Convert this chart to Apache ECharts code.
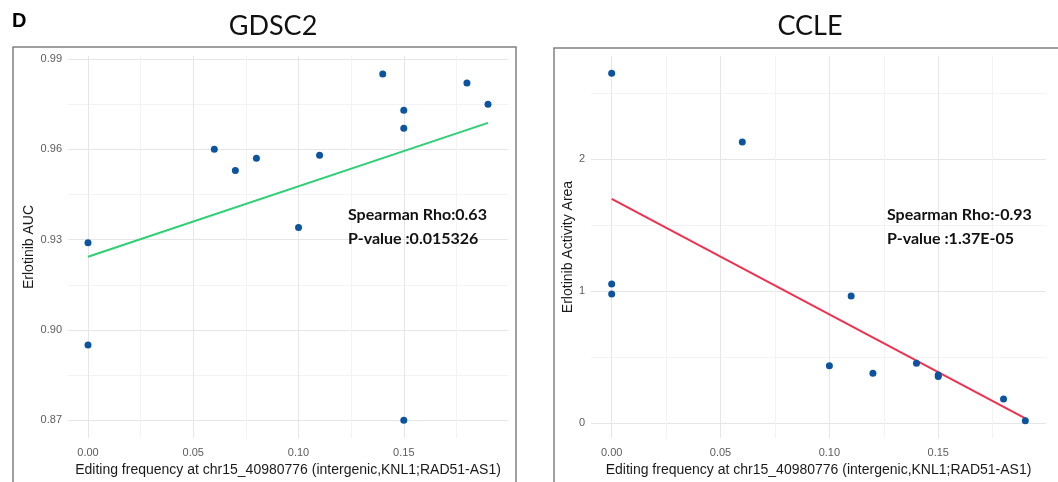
<!DOCTYPE html>
<html>
<head>
<meta charset="utf-8">
<script src="https://cdn.jsdelivr.net/npm/echarts@6/dist/echarts.min.js"></script>
<style>
  html, body { margin: 0; padding: 0; background: #fff; }
  #chart { width: 1058px; height: 482px; }
</style>
</head>
<body>
<div id="chart"></div>
<script>
// GDSC2 点 (editing frequency, Erlotinib AUC)
var gdscX = [0.14, 0.18, 0.19, 0.15, 0.15, 0.06, 0.07, 0.08, 0.11, 0.10, 0.00, 0.00, 0.15];
var gdscY = [0.985, 0.982, 0.975, 0.973, 0.967, 0.960, 0.953, 0.957, 0.958, 0.934, 0.929, 0.895, 0.870];
var gdscFitX = [0, 0.19];
var gdscFitY = [0.9243, 0.9688];

// CCLE 点 (editing frequency, Erlotinib Activity Area)
var ccleX = [0.00, 0.06, 0.00, 0.00, 0.11, 0.10, 0.12, 0.14, 0.15, 0.15, 0.18, 0.19];
var ccleY = [2.647, 2.128, 1.054, 0.978, 0.963, 0.436, 0.378, 0.454, 0.366, 0.354, 0.184, 0.020];
var ccleFitX = [0, 0.19];
var ccleFitY = [1.697, 0.038];

var titles = ['GDSC2', 'CCLE'];
var yNames = ['Erlotinib AUC', 'Erlotinib Activity Area'];
var xName = 'Editing frequency at chr15_40980776 (intergenic,KNL1;RAD51-AS1)';
var statsText = [
    ['Spearman Rho:0.63', 'P-value :0.015326'],
    ['Spearman Rho:-0.93', 'P-value :1.37E-05']
];

function pairs(xs, ys) {
    return xs.map(function (x, i) { return [x, ys[i]]; });
}

var axisFont = 'Liberation Sans, Arial, sans-serif';
var titleFont = 'Lato, Open Sans, sans-serif';

function xAxisCfg(idx) {
    return {
        type: 'value',
        gridIndex: idx,
        min: -0.0095,
        max: 0.1995,
        splitNumber: 4,
        name: xName,
        nameLocation: 'middle',
        nameGap: 24,
        nameTextStyle: { fontSize: 14, color: '#1a1a1a', fontFamily: axisFont },
        axisLine: { show: false },
        axisTick: { show: false },
        axisLabel: {
            color: '#5c5c5c', fontSize: 11, fontFamily: axisFont, margin: 9,
            showMinLabel: false, showMaxLabel: false,
            formatter: function (v) { return v.toFixed(2); }
        },
        splitLine: { show: true, showMinLine: false, showMaxLine: false, lineStyle: { color: '#e6e6e6', width: 1 } },
        minorTick: { show: false, splitNumber: 2 },
        minorSplitLine: { show: true, lineStyle: { color: '#f3f3f3', width: 1 } }
    };
}

var chart = echarts.init(document.getElementById('chart'));
chart.setOption({
    animation: false,
    backgroundColor: '#fff',
    title: [
        { text: titles[0], left: 268, top: 8, textAlign: 'center',
          textStyle: { fontSize: 27, fontWeight: 'normal', color: '#111', fontFamily: titleFont } },
        { text: titles[1], left: 805, top: 8, textAlign: 'center',
          textStyle: { fontSize: 27, fontWeight: 'normal', color: '#111', fontFamily: titleFont } }
    ],
    grid: [
        { left: 68, top: 56, width: 440, height: 382 },
        { left: 591, top: 56, width: 455, height: 382 }
    ],
    xAxis: [xAxisCfg(0), xAxisCfg(1)],
    yAxis: [
        {
            type: 'value', gridIndex: 0, min: 0.8641, max: 0.991, splitNumber: 4,
            name: yNames[0], nameLocation: 'middle', nameGap: 32,
            nameTextStyle: { fontSize: 14, color: '#1a1a1a', fontFamily: axisFont },
            axisLine: { show: false }, axisTick: { show: false },
            axisLabel: {
                color: '#5c5c5c', fontSize: 11, fontFamily: axisFont, margin: 6,
                showMinLabel: false, showMaxLabel: false,
                formatter: function (v) { return v.toFixed(2); }
            },
            splitLine: { show: true, showMinLine: false, showMaxLine: false, lineStyle: { color: '#e6e6e6' } },
            minorTick: { show: false, splitNumber: 2 },
            minorSplitLine: { show: true, lineStyle: { color: '#f3f3f3' } }
        },
        {
            type: 'value', gridIndex: 1, min: -0.111, max: 2.778, splitNumber: 3,
            name: yNames[1], nameLocation: 'middle', nameGap: 11,
            nameTextStyle: { fontSize: 14, color: '#1a1a1a', fontFamily: axisFont },
            axisLine: { show: false }, axisTick: { show: false },
            axisLabel: {
                color: '#5c5c5c', fontSize: 11, fontFamily: axisFont, margin: 6,
                showMinLabel: false, showMaxLabel: false
            },
            splitLine: { show: true, showMinLine: false, showMaxLine: false, lineStyle: { color: '#e6e6e6' } },
            minorTick: { show: false, splitNumber: 2 },
            minorSplitLine: { show: true, lineStyle: { color: '#f3f3f3' } }
        }
    ],
    series: [
        {
            type: 'line', xAxisIndex: 0, yAxisIndex: 0,
            data: pairs(gdscFitX, gdscFitY), symbol: 'none',
            lineStyle: { color: '#2ecf75', width: 2 }, z: 2
        },
        {
            type: 'scatter', xAxisIndex: 0, yAxisIndex: 0,
            data: pairs(gdscX, gdscY), symbolSize: 7,
            itemStyle: { color: '#0d54a0', opacity: 1 }, z: 3
        },
        {
            type: 'line', xAxisIndex: 1, yAxisIndex: 1,
            data: pairs(ccleFitX, ccleFitY), symbol: 'none',
            lineStyle: { color: '#f0304f', width: 2 }, z: 2
        },
        {
            type: 'scatter', xAxisIndex: 1, yAxisIndex: 1,
            data: pairs(ccleX, ccleY), symbolSize: 7,
            itemStyle: { color: '#0d54a0', opacity: 1 }, z: 3
        }
    ],
    graphic: [
        // 面板外框
        { type: 'rect', z: 100, shape: { x: 13, y: 47, width: 503, height: 460 },
          style: { fill: 'none', stroke: '#808080', lineWidth: 1.5 }, silent: true },
        { type: 'rect', z: 100, shape: { x: 554, y: 48, width: 520, height: 460 },
          style: { fill: 'none', stroke: '#808080', lineWidth: 1.5 }, silent: true },
        { type: 'text', z: 100, left: 12, top: 11,
          style: { text: 'D', font: 'bold 20px Liberation Sans, Arial, sans-serif', fill: '#000' } },
        { type: 'text', z: 100, left: 348, top: 203,
          style: { text: statsText[0].join('\n'), font: 'bold 16px Lato, Open Sans, sans-serif',
                   lineHeight: 24, fill: '#111' } },
        { type: 'text', z: 100, left: 887, top: 203,
          style: { text: statsText[1].join('\n'), font: 'bold 16px Lato, Open Sans, sans-serif',
                   lineHeight: 24, fill: '#111' } }
    ]
});
</script>
</body>
</html>
